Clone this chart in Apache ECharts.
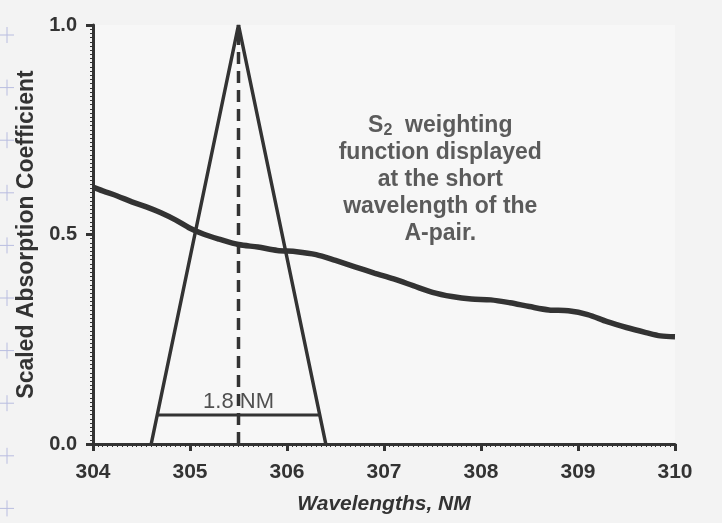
<!DOCTYPE html>
<html>
<head>
<meta charset="utf-8">
<script src="https://cdn.jsdelivr.net/npm/echarts@6/dist/echarts.min.js"></script>
<style>
html,body{margin:0;padding:0;background:#f3f3f3;}
#chart{width:722px;height:523px;}
</style>
</head>
<body>
<div id="chart"></div>
<script>
// Absorption curve (wavelength nm, scaled coefficient)
var waveX = [304.0, 304.1, 304.25, 304.4, 304.55, 304.7, 304.85, 305.0, 305.15, 305.3, 305.5, 305.7, 305.9, 306.1, 306.3, 306.5, 306.7, 306.9, 307.1, 307.3, 307.5, 307.7, 307.9, 308.1, 308.3, 308.5, 308.7, 308.9, 309.1, 309.3, 309.5, 309.7, 309.85, 310.0];
var absorbY = [0.613, 0.604, 0.592, 0.578, 0.566, 0.552, 0.535, 0.515, 0.500, 0.489, 0.476, 0.470, 0.462, 0.459, 0.452, 0.438, 0.423, 0.408, 0.394, 0.378, 0.362, 0.352, 0.346, 0.344, 0.337, 0.328, 0.320, 0.318, 0.309, 0.292, 0.278, 0.266, 0.258, 0.256];
// S2 weighting function (triangle)
var triX = [304.6, 305.5, 306.4];
var triY = [0, 1.0, 0];
// centre line
var centerX = [305.5, 305.5];
var centerY = [0, 1.0];
// 1.8 NM width bar
var barX = [304.66, 306.34];
var barY = [0.069, 0.069];
var barLabel = '1.8 NM';
var barLabelPos = [305.5, 0.1];
// annotation
var noteLines = ['S2 weighting', 'function displayed', 'at the short', 'wavelength of the', 'A-pair.'];
var notePos = [307.58, 0.63];
// axes
var xTicks = [304, 305, 306, 307, 308, 309, 310];
var yTicks = ['0.0', '0.5', '1.0'];
var xTitle = 'Wavelengths, NM';
var yTitle = 'Scaled Absorption Coefficient';

function pairs(xs, ys){ return xs.map(function(x,i){ return [x, ys[i]]; }); }

var ink = '#333333';
var font = 'Liberation Sans, Arial, sans-serif';

var noteText = '{t|S}{s|2}{t|  weighting}\n' + noteLines.slice(1).map(function(l){ return '{t|' + l + '}'; }).join('\n');

var crosses = [];
for (var k = 0; k < 10; k++) {
  var cy = 35 + k * 52.6;
  crosses.push({type:'line', silent:true, shape:{x1:7, y1:cy-8, x2:7, y2:cy+8}, style:{stroke:'#b9bde0', lineWidth:1}});
  crosses.push({type:'line', silent:true, shape:{x1:0, y1:cy, x2:14, y2:cy}, style:{stroke:'#b9bde0', lineWidth:1}});
}

var chart = echarts.init(document.getElementById('chart'));
chart.setOption({
  backgroundColor: '#f3f3f3',
  animation: false,
  graphic: crosses,
  grid: {left: 93, right: 47, top: 25, bottom: 79, show: true, backgroundColor: '#f7f7f7', borderWidth: 0},
  xAxis: {
    type: 'value', min: xTicks[0], max: xTicks[xTicks.length-1], interval: 1,
    name: xTitle, nameLocation: 'middle', nameGap: 50,
    nameTextStyle: {fontFamily: font, fontWeight: 'bold', fontStyle: 'italic', fontSize: 21, color: ink},
    axisLine: {lineStyle: {color: ink, width: 3}},
    axisTick: {show: true, length: 7, inside: false, lineStyle: {color: ink, width: 3}},
    minorTick: {show: true, splitNumber: 20, length: 3, lineStyle: {color: ink, width: 1}},
    splitLine: {show: false},
    axisLabel: {fontFamily: font, fontWeight: 'bold', fontSize: 21, color: ink, margin: 18}
  },
  yAxis: {
    type: 'value', min: 0, max: 1, interval: 0.5,
    name: yTitle, nameLocation: 'middle', nameGap: 50, nameRotate: 90,
    nameTextStyle: {fontFamily: font, fontWeight: 'bold', fontSize: 23, color: ink},
    axisLine: {show: true, lineStyle: {color: ink, width: 3}},
    axisTick: {show: true, length: 7, lineStyle: {color: ink, width: 3}},
    minorTick: {show: true, splitNumber: 50, length: 3, lineStyle: {color: ink, width: 1}},
    splitLine: {show: false},
    axisLabel: {fontFamily: font, fontWeight: 'bold', fontSize: 20, color: ink, margin: 16,
      formatter: function(v){ return v.toFixed(1); }}
  },
  series: [
    {type: 'line', data: pairs(waveX, absorbY), showSymbol: false, smooth: 0.3,
      lineStyle: {color: ink, width: 5.5}, z: 3},
    {type: 'line', data: pairs(triX, triY), showSymbol: false,
      lineStyle: {color: ink, width: 3.5}, z: 4},
    {type: 'line', data: pairs(centerX, centerY), showSymbol: false,
      lineStyle: {color: ink, width: 3.5, type: [12, 7]}, z: 4},
    {type: 'line', data: pairs(barX, barY), showSymbol: false,
      lineStyle: {color: ink, width: 3}, z: 4},
    {type: 'scatter', data: [barLabelPos], symbolSize: 0, silent: true,
      label: {show: true, position: 'inside', formatter: barLabel, fontFamily: font, fontSize: 22, color: '#262626', textBorderWidth: 0}, z: 5},
    {type: 'scatter', data: [notePos], symbolSize: 0, silent: true,
      label: {show: true, position: 'inside', formatter: noteText, align: 'center', verticalAlign: 'middle',
        rich: {
          t: {fontFamily: font, fontWeight: 'bold', fontSize: 23, color: ink, lineHeight: 27, align: 'center'},
          s: {fontFamily: font, fontWeight: 'bold', fontSize: 16, color: ink, lineHeight: 27, padding: [10, 0, 0, 0]}
        }}, z: 5}
  ]
});
</script>
</body>
</html>
